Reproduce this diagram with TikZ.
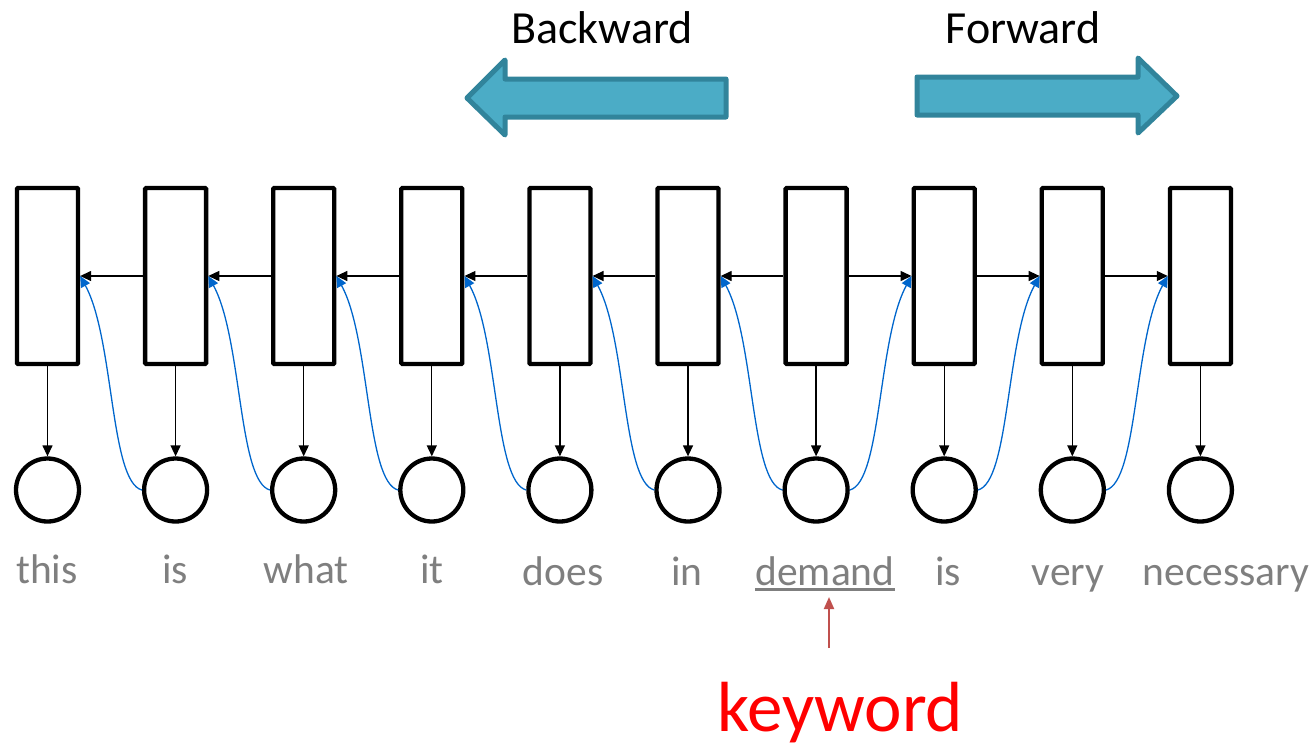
\documentclass[tikz,border=0pt]{standalone}
\usepackage{fontspec}
\setmainfont{Carlito}
\usetikzlibrary{arrows.meta}
\definecolor{teal1}{HTML}{4BACC6}
\definecolor{teal2}{HTML}{31849B}
\definecolor{curveblue}{HTML}{0066CC}
\definecolor{wordgray}{HTML}{7F7F7F}
\definecolor{darkred}{HTML}{C0504D}
\begin{document}
\begin{tikzpicture}[x=1pt,y=-1pt,
  cell/.style={draw=black,line width=4.3pt,rounded corners=1pt,minimum width=61pt,minimum height=176pt,inner sep=0pt},
  outcirc/.style={draw=black,line width=4.3pt,circle,minimum size=63pt,inner sep=0pt},
  link/.style={-{Triangle[length=11pt,width=10pt]},line width=1.3pt,black},
  skip/.style={-{Triangle[length=11pt,width=10pt]},line width=1.3pt,curveblue},
  word/.style={anchor=base,inner sep=0pt,text=wordgray,font=\fontsize{41.5}{41.5}\selectfont},
  blockarrow/.style={fill=teal1,draw=teal2,line width=5pt,line join=round}
]
\useasboundingbox (0,0) rectangle (1316,748);
% block arrows
\filldraw[blockarrow] (726,79) -- (505,79) -- (505,60) -- (467,98) -- (505,135) -- (505,117) -- (726,117) -- cycle;
\filldraw[blockarrow] (917,77) -- (1138,77) -- (1138,58) -- (1177,96) -- (1138,133) -- (1138,115) -- (917,115) -- cycle;
\node[anchor=base,inner sep=0pt,font=\fontsize{46}{46}\selectfont] (bw) at (602,43) {Backward};
\node[anchor=base,inner sep=0pt,font=\fontsize{46}{46}\selectfont] (fw) at (1023,43) {Forward};
% cells and outputs
\foreach \i in {1,...,10}{
  \pgfmathsetmacro{\xx}{47.5+128.1*(\i-1)}
  \node[cell] (b\i) at (\xx,276) {};
  \node[outcirc] (c\i) at (\xx,490) {};
  \draw[link] (b\i.south) -- (c\i.north);
}
% backward links
\foreach \i/\j in {2/1,3/2,4/3,5/4,6/5,7/6}{
  \draw[link] (b\i.west) -- (b\j.east);
  \draw[skip] (c\i.west) .. controls +(-32,-8) and +(34,62) .. (b\j.east);
}
% forward links
\foreach \i/\j in {7/8,8/9,9/10}{
  \draw[link] (b\i.east) -- (b\j.west);
  \draw[skip] (c\i.east) .. controls +(32,-8) and +(-34,62) .. (b\j.west);
}
% words
\node[word] (w1) at (47,583) {this};
\node[word] (w2) at (175,583) {is};
\node[word] (w3) at (306,583) {what};
\node[word] (w4) at (432,583) {it};
\node[word] (w5) at (563,585) {does};
\node[word] (w6) at (687,585) {in};
\node[word] (w7) at (825,585) {demand};
\node[word] (w8) at (948,585) {is};
\node[word] (w9) at (1068,585) {very};
\node[word] (w10) at (1226,585) {necessary};
\draw[wordgray,line width=3pt] ([yshift=-4pt]w7.base west) -- ([yshift=-4pt]w7.base east);
% keyword
\node[anchor=base,inner sep=0pt,text=red,font=\fontsize{71}{71}\selectfont] (kw) at (840,731) {keyword};
\coordinate (kt) at (829,648);
\coordinate (kh) at (829,597);
\draw[-{Triangle[length=12pt,width=10pt]},darkred,line width=2pt] (kt) -- (kh);
\end{tikzpicture}
\end{document}
